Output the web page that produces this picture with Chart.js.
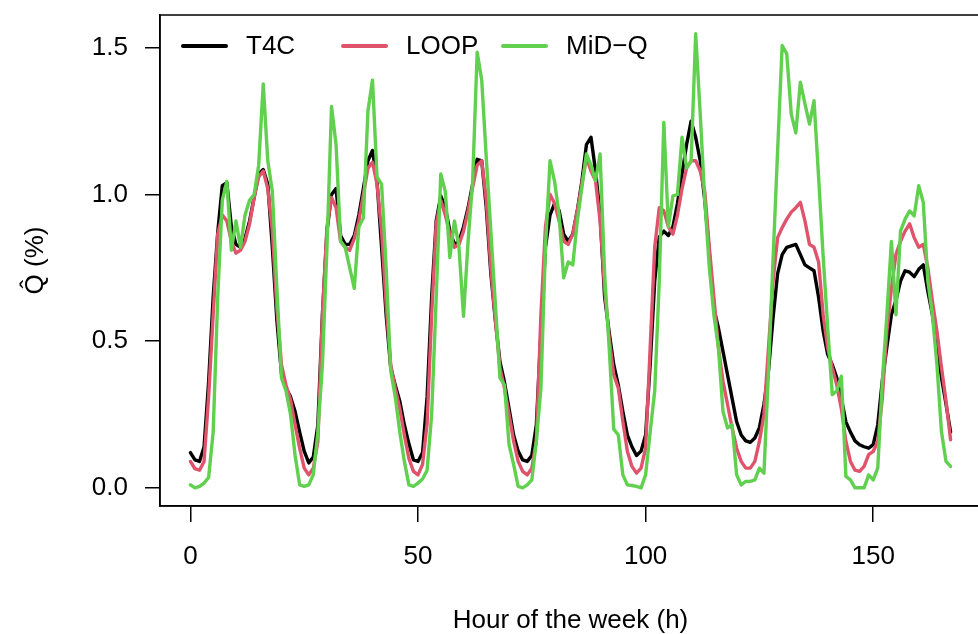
<!DOCTYPE html>
<html>
<head>
<meta charset="utf-8">
<script src="https://cdn.jsdelivr.net/npm/chart.js@4.4.1/dist/chart.umd.min.js"></script>
<style>
  html, body { margin: 0; padding: 0; overflow: hidden; background: #fff; }
  #wrap { width: 986px; height: 634px; }
</style>
</head>
<body>
<div id="wrap"><canvas id="grafico"></canvas></div>
<script>
// hour of the week, 0..167
const hours = Array.from({ length: 168 }, (_, i) => i);

const t4c = [
  0.12, 0.095, 0.09, 0.14, 0.36, 0.65, 0.87, 1.03, 1.04, 0.89,
  0.83, 0.82, 0.85, 0.91, 0.99, 1.07, 1.085, 1.035, 0.82, 0.57,
  0.39, 0.34, 0.31, 0.26, 0.19, 0.125, 0.085, 0.105, 0.215, 0.59,
  0.875, 1.0, 1.02, 0.86, 0.83, 0.83, 0.86, 0.93, 1.02, 1.115,
  1.15, 1.045, 0.82, 0.59, 0.41, 0.35, 0.295, 0.215, 0.15, 0.095,
  0.09, 0.12, 0.31, 0.65, 0.91, 0.995, 0.955, 0.875, 0.83, 0.84,
  0.89, 0.955, 1.035, 1.12, 1.115, 0.955, 0.73, 0.57, 0.43, 0.36,
  0.27, 0.18, 0.125, 0.095, 0.09, 0.11, 0.215, 0.53, 0.82, 0.93,
  0.97, 0.945, 0.865, 0.84, 0.865, 0.945, 1.045, 1.17, 1.195, 1.08,
  0.93, 0.65, 0.53, 0.42, 0.35, 0.26, 0.18, 0.14, 0.11, 0.125,
  0.18, 0.42, 0.705, 0.855, 0.875, 0.86, 0.89, 0.97, 1.07, 1.17,
  1.25, 1.195, 1.115, 0.98, 0.80, 0.61, 0.545, 0.465, 0.385, 0.305,
  0.225, 0.18, 0.16, 0.155, 0.17, 0.205, 0.285, 0.40, 0.58, 0.73,
  0.795, 0.82, 0.825, 0.83, 0.795, 0.76, 0.75, 0.74, 0.65, 0.535,
  0.455, 0.42, 0.375, 0.305, 0.225, 0.19, 0.16, 0.147, 0.14, 0.135,
  0.147, 0.215, 0.365, 0.48, 0.59, 0.64, 0.705, 0.74, 0.735, 0.72,
  0.745, 0.76, 0.67, 0.59, 0.48, 0.375, 0.285, 0.19
];

const loop = [
  0.09, 0.065, 0.06, 0.09, 0.31, 0.59, 0.865, 0.93, 0.91, 0.84,
  0.80, 0.81, 0.84, 0.90, 0.99, 1.06, 1.08, 1.02, 0.875, 0.61,
  0.42, 0.35, 0.30, 0.215, 0.135, 0.067, 0.044, 0.067, 0.158, 0.59,
  0.89, 0.99, 0.955, 0.84, 0.82, 0.81, 0.85, 0.91, 1.0, 1.09,
  1.11, 1.035, 0.875, 0.625, 0.42, 0.34, 0.27, 0.18, 0.10, 0.056,
  0.044, 0.08, 0.22, 0.59, 0.90, 0.98, 0.93, 0.865, 0.82, 0.83,
  0.875, 0.945, 1.024, 1.10, 1.115, 0.98, 0.75, 0.57, 0.41, 0.34,
  0.25, 0.16, 0.09, 0.056, 0.044, 0.067, 0.16, 0.59, 0.89, 1.0,
  0.97, 0.91, 0.84, 0.83, 0.865, 0.945, 1.035, 1.126, 1.08, 1.047,
  0.91, 0.68, 0.51, 0.386, 0.34, 0.227, 0.124, 0.073, 0.05, 0.067,
  0.135, 0.477, 0.82, 0.955, 0.945, 0.89, 0.865, 0.93, 1.02, 1.09,
  1.115, 1.115, 1.08, 1.01, 0.82, 0.65, 0.477, 0.363, 0.284, 0.204,
  0.135, 0.09, 0.067, 0.067, 0.09, 0.158, 0.25, 0.477, 0.705, 0.853,
  0.887, 0.916, 0.94, 0.955, 0.973, 0.91, 0.83, 0.82, 0.77, 0.59,
  0.477, 0.41, 0.35, 0.27, 0.158, 0.09, 0.06, 0.056, 0.073, 0.113,
  0.124, 0.158, 0.306, 0.534, 0.68, 0.796, 0.84, 0.875, 0.90, 0.853,
  0.82, 0.83, 0.75, 0.637, 0.534, 0.41, 0.295, 0.164
];

const midq = [
  0.01, 0.0, 0.005, 0.016, 0.035, 0.19, 0.65, 0.98, 1.045, 0.81,
  0.91, 0.82, 0.93, 0.98, 1.0, 1.10, 1.377, 1.115, 1.01, 0.68,
  0.375, 0.33, 0.25, 0.11, 0.01, 0.005, 0.01, 0.045, 0.19, 0.42,
  0.82, 1.30, 1.17, 0.84, 0.82, 0.75, 0.68, 0.89, 0.92, 1.285,
  1.39, 1.06, 1.035, 0.75, 0.40, 0.31, 0.19, 0.09, 0.01, 0.005,
  0.016, 0.03, 0.06, 0.25, 0.65, 1.07, 1.01, 0.785, 0.91, 0.82,
  0.585, 0.84, 1.045, 1.485, 1.39, 1.125, 0.875, 0.625, 0.375, 0.35,
  0.147, 0.08, 0.005, 0.0, 0.01, 0.027, 0.16, 0.34, 0.82, 1.115,
  1.045, 0.93, 0.716, 0.77, 0.76, 0.91, 1.024, 1.138, 1.10, 1.047,
  1.138, 0.728, 0.477, 0.20, 0.18, 0.044, 0.01, 0.008, 0.005, 0.0,
  0.044, 0.19, 0.33, 0.705, 1.246, 0.89, 0.995, 1.0, 1.195, 1.09,
  1.115, 1.548, 1.274, 0.98, 0.75, 0.59, 0.477, 0.26, 0.204, 0.215,
  0.044, 0.01, 0.022, 0.022, 0.027, 0.067, 0.05, 0.40, 0.78, 1.15,
  1.508, 1.48, 1.274, 1.21, 1.383, 1.31, 1.24, 1.32, 1.06, 0.79,
  0.545, 0.318, 0.33, 0.38, 0.039, 0.027, 0.0, 0.0, 0.0, 0.044,
  0.027, 0.067, 0.363, 0.59, 0.84, 0.59, 0.875, 0.916, 0.944, 0.927,
  1.03, 0.973, 0.705, 0.59, 0.42, 0.19, 0.09, 0.073
];

const xTicks = [0, 50, 100, 150];
const yTicks = [0, 0.5, 1.0, 1.5];
const seriesNames = ["T4C", "LOOP", "MiD\u2212Q"];

const black = "#000000";
const red = "#DF536B";
const green = "#61D04F";
const fam = '"Liberation Sans", Arial, Helvetica, sans-serif';

function pontos(vals) {
  return hours.map((h, i) => ({ x: h, y: vals[i] }));
}

function serie(label, vals, cor, ordem) {
  return {
    label: label,
    data: pontos(vals),
    borderColor: cor,
    backgroundColor: cor,
    borderWidth: 3.4,
    borderCapStyle: "round",
    borderJoinStyle: "round",
    pointRadius: 0,
    fill: false,
    tension: 0,
    order: ordem,
  };
}

// R-style frame round the plot region
const caixa = {
  id: "caixa",
  afterDraw(chart) {
    const a = chart.chartArea;
    const ctx = chart.ctx;
    ctx.save();
    ctx.strokeStyle = black;
    ctx.lineWidth = 1.5;
    ctx.strokeRect(a.left, a.top, a.right - a.left, a.bottom - a.top);
    ctx.restore();
  },
};

// legend inside the plot, no box, equal columns like R
const legenda = {
  id: "legenda",
  afterDraw(chart) {
    const ctx = chart.ctx;
    const y = 46;
    ctx.save();
    ctx.font = "26px " + fam;
    ctx.textBaseline = "middle";
    ctx.textAlign = "left";
    ctx.lineCap = "round";
    chart.data.datasets.forEach((ds, i) => {
      const x0 = 183 + 160 * i;
      ctx.strokeStyle = ds.borderColor;
      ctx.lineWidth = 4;
      ctx.beginPath();
      ctx.moveTo(x0, y);
      ctx.lineTo(x0 + 43, y);
      ctx.stroke();
      ctx.fillStyle = black;
      ctx.fillText(ds.label, x0 + 63, y + 1);
    });
    ctx.restore();
  },
};

const ctx = document.getElementById("grafico").getContext("2d");
new Chart(ctx, {
  type: "line",
  data: {
    datasets: [
      serie(seriesNames[0], t4c, black, 3),
      serie(seriesNames[1], loop, red, 2),
      serie(seriesNames[2], midq, green, 1),
    ],
  },
  options: {
    responsive: true,
    maintainAspectRatio: false,
    animation: false,
    layout: { padding: { left: 0, top: 15, right: 5, bottom: 0 } },
    plugins: {
      legend: { display: false },
      tooltip: { enabled: false },
    },
    scales: {
      x: {
        type: "linear",
        min: -6.68,
        max: 173.68,
        afterBuildTicks: (s) => { s.ticks = xTicks.map((v) => ({ value: v })); },
        afterFit: (s) => { s.height = 128; s.paddingLeft = 0; s.paddingRight = 0; },
        grid: { drawOnChartArea: false, drawTicks: true, tickLength: 16, color: black, lineWidth: 1.5 },
        border: { display: true, color: black, width: 1.5 },
        ticks: {
          color: black,
          font: { family: fam, size: 26 },
          padding: 19,
          maxRotation: 0,
          autoSkip: false,
          callback: (v) => String(v),
        },
        title: {
          display: true,
          text: "Hour of the week (h)",
          color: black,
          font: { family: fam, size: 26, lineHeight: 1 },
          padding: { top: 0, bottom: 0 },
        },
      },
      y: {
        min: -0.062,
        max: 1.612,
        afterBuildTicks: (s) => { s.ticks = yTicks.map((v) => ({ value: v })); },
        afterFit: (s) => { s.width = 160; s.paddingTop = 0; s.paddingBottom = 0; },
        grid: { drawOnChartArea: false, drawTicks: true, tickLength: 15, color: black, lineWidth: 1.5 },
        border: { display: true, color: black, width: 1.5 },
        ticks: {
          color: black,
          font: { family: fam, size: 26 },
          padding: 17,
          callback: (v) => v.toFixed(1),
        },
        title: {
          display: true,
          text: "Q\u0302 (%)",
          color: black,
          font: { family: fam, size: 26, lineHeight: 1.2 },
          padding: { top: 20, bottom: 0 },
        },
      },
    },
  },
  plugins: [caixa, legenda],
});
</script>
</body>
</html>
